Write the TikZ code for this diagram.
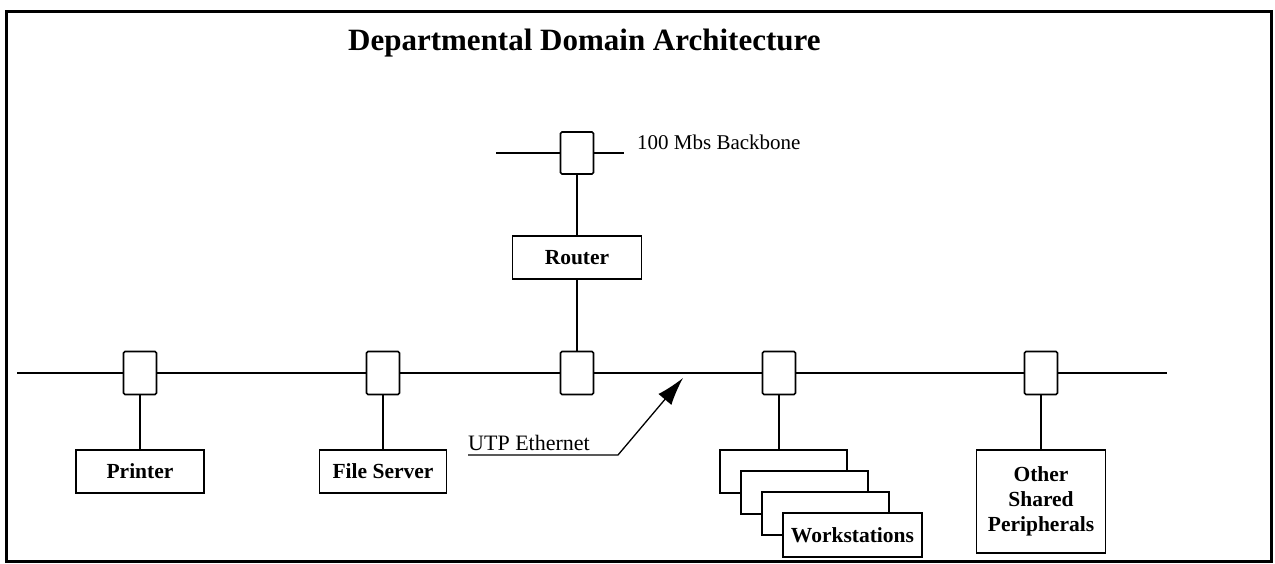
\documentclass[tikz,border=0pt]{standalone}
\usepackage{fontspec}
\setmainfont{Liberation Serif}
\usetikzlibrary{arrows.meta}
\begin{document}
\begin{tikzpicture}[x=1pt,y=-1pt,
  tap/.style={draw,line width=1.6pt,rounded corners=1.5pt,minimum width=33pt,minimum height=43pt,inner sep=0pt},
  dev/.style={draw,line width=1.5pt,fill=white,inner sep=0pt,align=center,font=\fontsize{21.5}{25}\selectfont\bfseries},
  wire/.style={line width=2.1pt},
  drop/.style={line width=1.3pt}]
\useasboundingbox (0,0) rectangle (1275,564);
\node[draw,line width=3pt,minimum width=1265pt,minimum height=549pt,inner sep=0pt] (frame) at (638.5,286.5) {};
\node[anchor=base west,inner sep=0pt,font=\fontsize{31}{34}\selectfont\bfseries] (title) at (348,51) {Departmental Domain Architecture};
% backbone
\node[tap,minimum height=42pt] (bbtap) at (577,153) {};
\coordinate (bbL) at (496,153);
\coordinate (bbR) at (624,153);
\draw[wire] (bbL) -- (bbtap.west);
\draw[wire] (bbtap.east) -- (bbR);
\node[anchor=west,inner sep=0pt,font=\fontsize{21}{24}\selectfont] (bblabel) at (637,142) {100 Mbs Backbone};
% router
\node[dev,minimum width=129pt,minimum height=43pt] (router) at (577,257.5) {Router};
% ethernet taps
\node[tap] (t1) at (140,373) {};
\node[tap] (t2) at (383,373) {};
\node[tap] (t3) at (577,373) {};
\node[tap] (t4) at (779,373) {};
\node[tap] (t5) at (1041,373) {};
\coordinate (eL) at (17,373);
\coordinate (eR) at (1167,373);
\draw[wire] (eL) -- (t1.west);
\draw[wire] (t1.east) -- (t2.west);
\draw[wire] (t2.east) -- (t3.west);
\draw[wire] (t3.east) -- (t4.west);
\draw[wire] (t4.east) -- (t5.west);
\draw[wire] (t5.east) -- (eR);
\draw[drop] (bbtap.south) -- (router.north);
\draw[drop] (router.south) -- (t3.north);
% devices
\node[dev,minimum width=128pt,minimum height=43pt] (printer) at (140,471.5) {Printer};
\node[dev,minimum width=127pt,minimum height=43pt] (fserver) at (383,471.5) {File Server};
\node[dev,minimum width=127pt,minimum height=43pt] (ws1) at (783.5,471.5) {};
\node[dev,minimum width=127pt,minimum height=43pt] (ws2) at (804.5,492.5) {};
\node[dev,minimum width=127pt,minimum height=43pt] (ws3) at (825.5,513.5) {};
\node[dev,minimum width=139pt,minimum height=44pt] (ws4) at (852.5,535) {Workstations};
\node[dev,minimum width=129pt,minimum height=103pt] (other) at (1041,501.5) {Other\\Shared\\Peripherals};
\draw[drop] (t1.south) -- (printer.north);
\draw[drop] (t2.south) -- (fserver.north);
\draw[drop] (t4.south) -- (t4.south |- ws1.north);
\draw[drop] (t5.south) -- (other.north);
% UTP label
\node[anchor=base west,inner sep=0pt,font=\fontsize{22}{24}\selectfont] (utp) at (468,450) {UTP Ethernet};
\coordinate (uL) at (468,455);
\coordinate (uK) at (618,455);
\coordinate (uT) at (683,378);
\draw[line width=1.3pt,-{Latex[length=28pt,width=17pt]}] (uL) -- (uK) -- (uT);
\end{tikzpicture}
\end{document}
